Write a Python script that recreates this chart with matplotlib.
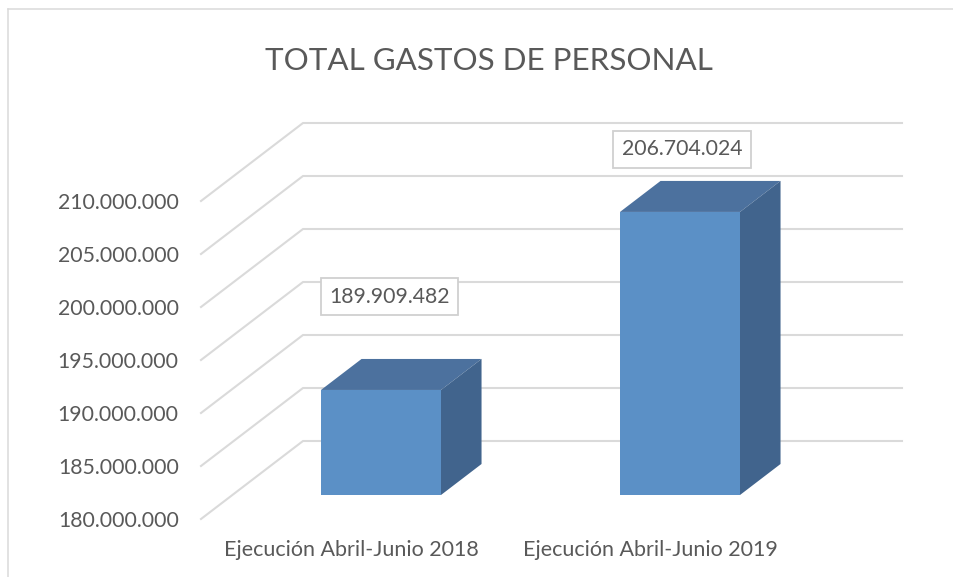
from __future__ import annotations

import matplotlib

matplotlib.use("Agg")

import matplotlib.pyplot as plt

CATEGORIES = ["Ejecución Abril-Junio 2018", "Ejecución Abril-Junio 2019"]
VALUES = [189909482, 206704024]
VALUE_LABELS = ["189.909.482", "206.704.024"]
TICKS = [180000000, 185000000, 190000000, 195000000, 200000000, 205000000, 210000000]
TICK_LABELS = ["180.000.000", "185.000.000", "190.000.000", "195.000.000",
               "200.000.000", "205.000.000", "210.000.000"]

WIDTH, HEIGHT = 954, 577
DPI = 100
TEXT_COLOR = "#595959"
GRID_COLOR = "#DADADA"
FRONT_COLOR = "#5B90C6"
TOP_COLOR = "#4C719E"
SIDE_COLOR = "#41648D"

# scale of the picture: one category is 299 px, 5M is 53 px
PX_PER_CAT = 299.0
PX_PER_UNIT = 53.0 / 5000000
BASE = TICKS[0]

# oblique depth of the floor, px
DEPTH_X = 102
DEPTH_Y = 78
BAR_DEPTH_FRONT = 24 / 78
BAR_DEPTH_BACK = 55 / 78
BAR_WIDTH = 120 / PX_PER_CAT
GRID_LEFT = -180 / PX_PER_CAT
GRID_RIGHT = 419 / PX_PER_CAT


def project(x, value, depth):
    return (x + depth * DEPTH_X / PX_PER_CAT, value + depth * DEPTH_Y / PX_PER_UNIT)


def draw_bar(ax, center, value):
    x0 = center - BAR_WIDTH / 2 - BAR_DEPTH_FRONT * DEPTH_X / PX_PER_CAT
    x1 = x0 + BAR_WIDTH
    d0, d1 = BAR_DEPTH_FRONT, BAR_DEPTH_BACK

    def face(corners, color):
        xs, ys = zip(*[project(*c) for c in corners])
        ax.fill(xs, ys, color=color, lw=0, zorder=3)

    face([(x0, BASE, d0), (x1, BASE, d0), (x1, value, d0), (x0, value, d0)], FRONT_COLOR)
    face([(x0, value, d0), (x1, value, d0), (x1, value, d1), (x0, value, d1)], TOP_COLOR)
    face([(x1, BASE, d0), (x1, BASE, d1), (x1, value, d1), (x1, value, d0)], SIDE_COLOR)


def main() -> None:
    plt.rcParams["font.family"] = ["Lato", "DejaVu Sans"]

    fig = plt.figure(figsize=(WIDTH / DPI, HEIGHT / DPI), dpi=DPI)
    ax = fig.add_axes([0, 0, 1, 1])
    ax.set_xlim(-381 / PX_PER_CAT, (WIDTH - 381) / PX_PER_CAT)
    ax.set_ylim(BASE - (HEIGHT - 519) / PX_PER_UNIT, BASE + 519 / PX_PER_UNIT)
    ax.axis("off")

    # chart frame, open at the bottom
    fig.add_artist(plt.Line2D([8.5 / WIDTH, 8.5 / WIDTH], [0, 1 - 9 / HEIGHT], color=GRID_COLOR, lw=1.1))
    fig.add_artist(plt.Line2D([8.5 / WIDTH, 1], [1 - 9 / HEIGHT, 1 - 9 / HEIGHT], color=GRID_COLOR, lw=1.1))

    for tick, label in zip(TICKS, TICK_LABELS):
        p0 = project(GRID_LEFT, tick, 0)
        p1 = project(GRID_LEFT, tick, 1)
        p2 = project(GRID_RIGHT, tick, 1)
        ax.plot([p0[0], p1[0], p2[0]], [p0[1], p1[1], p2[1]], color=GRID_COLOR, lw=1.5,
                zorder=1, solid_joinstyle="round")
        ax.annotate(label, xy=p0, xytext=(-16, -1.6), textcoords="offset points",
                    ha="right", va="center", fontsize=15.3, color=TEXT_COLOR)

    centers = list(range(len(VALUES)))
    for center, value in zip(centers, VALUES):
        draw_bar(ax, center, value)

    # labels were moved by hand in the original
    offsets = [(6, 67), (1.5, 45)]
    for center, value, label, off in zip(centers, VALUES, VALUE_LABELS, offsets):
        ax.annotate(label, xy=project(center - BAR_DEPTH_FRONT * DEPTH_X / PX_PER_CAT, value, BAR_DEPTH_FRONT),
                    xytext=off, textcoords="offset points", ha="center", va="center",
                    fontsize=15.3, color=TEXT_COLOR, zorder=5,
                    bbox=dict(boxstyle="square,pad=0.4", fc="white", ec="#D0D0D0", lw=1.3))

    for center, label in zip(centers, CATEGORIES):
        ax.annotate(label, xy=(center, BASE), xytext=(-21.5, -22.5), textcoords="offset points",
                    ha="center", va="center", fontsize=15.5, color=TEXT_COLOR)

    fig.text(489 / WIDTH, 1 - 61 / HEIGHT, "TOTAL GASTOS DE PERSONAL", ha="center", va="center",
             fontsize=22.6, color=TEXT_COLOR)

    fig.savefig("out.png", dpi=DPI)
    plt.close(fig)


if __name__ == "__main__":
    main()
